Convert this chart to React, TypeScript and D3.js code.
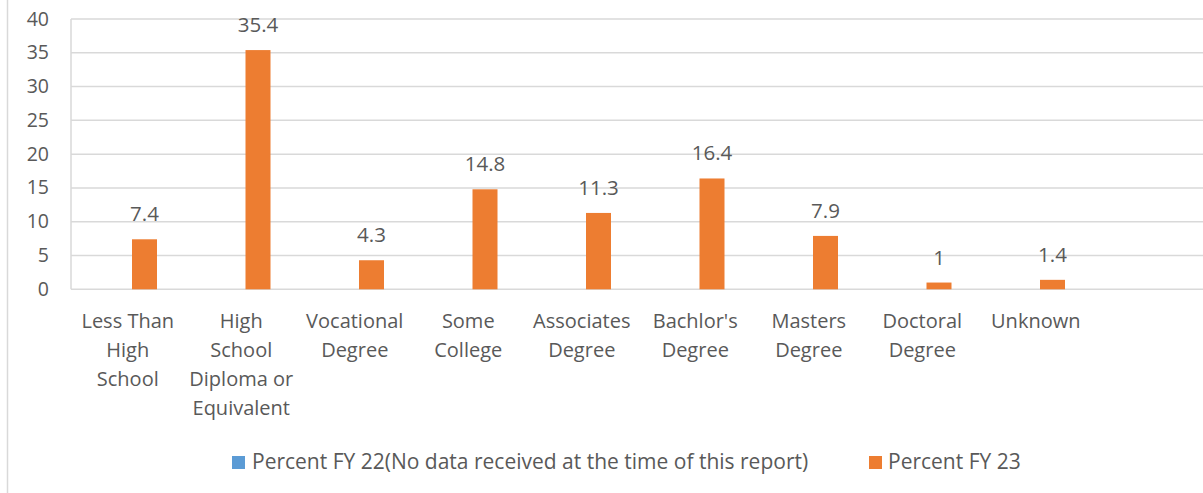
import React from "react";
import * as d3 from "d3";

const categories: string[] = [
  "Less Than High School",
  "High School Diploma or Equivalent",
  "Vocational Degree",
  "Some College",
  "Associates Degree",
  "Bachlor's Degree",
  "Masters Degree",
  "Doctoral Degree",
  "Unknown",
  "",
];
const categoryLines: string[][] = [
  ["Less Than", "High", "School"],
  ["High", "School", "Diploma or", "Equivalent"],
  ["Vocational", "Degree"],
  ["Some", "College"],
  ["Associates", "Degree"],
  ["Bachlor's", "Degree"],
  ["Masters", "Degree"],
  ["Doctoral", "Degree"],
  ["Unknown"],
  [],
];
const seriesNames: string[] = [
  "Percent FY 22(No data received at the time of this report)",
  "Percent FY 23",
];
const fy22: (number | null)[] = [null, null, null, null, null, null, null, null, null, null];
const fy23: (number | null)[] = [7.4, 35.4, 4.3, 14.8, 11.3, 16.4, 7.9, 1, 1.4, null];
const yTicks: number[] = [0, 5, 10, 15, 20, 25, 30, 35, 40];

const COLORS = ["#5B9BD5", "#ED7D31"];
const TEXT = "#595959";
const GRID = "#D9D9D9";
const FONT = "'Open Sans', 'Liberation Sans', sans-serif";

export default function App() {
  const W = 1203;
  const H = 493;
  const left = 71;
  const band = 113.5;
  const x = d3
    .scaleBand<string>()
    .domain(categories.map((c, i) => String(i)))
    .range([left, left + band * categories.length])
    .padding(0);
  const bw = x.bandwidth();
  const xs = d3
    .scaleBand<string>()
    .domain(["0", "1"])
    .range([bw / 2 - 20.75, bw / 2 + 29.25])
    .padding(0);
  const y = d3.scaleLinear().domain([0, 40]).range([289.3, 19]);
  const series = [fy22, fy23];

  return (
    <svg
      width={W}
      height={H}
      style={{ position: "absolute", left: 0, top: 0, background: "#fff" }}
      fontFamily={FONT}
    >
      <rect x={0} y={0} width={W} height={H} fill="#fff" />
      <line x1={7.5} x2={7.5} y1={0} y2={H} stroke={GRID} strokeWidth={1.5} />
      {yTicks.map((t) => (
        <g key={t}>
          <line x1={left} x2={W} y1={y(t)} y2={y(t)} stroke={GRID} strokeWidth={1.5} />
          <text x={49} y={y(t) + 6.5} textAnchor="end" fontSize={19.5} fill={TEXT}>
            {t}
          </text>
        </g>
      ))}
      <line x1={left} x2={left} y1={y(40)} y2={y(0)} stroke={GRID} strokeWidth={1.5} />
      {series.map((s, si) =>
        s.map((v, i) =>
          v == null ? null : (
            <g key={`${si}-${i}`}>
              <rect
                x={(x(String(i)) as number) + (xs(String(si)) as number)}
                y={y(v)}
                width={xs.bandwidth()}
                height={y(0) - y(v)}
                fill={COLORS[si]}
              />
              <text
                x={(x(String(i)) as number) + (xs(String(si)) as number) + xs.bandwidth() / 2}
                y={y(v) - 18}
                textAnchor="middle"
                fontSize={20.5}
                fill={TEXT}
              >
                {v}
              </text>
            </g>
          )
        )
      )}
      {categoryLines.map((lines, i) => (
        <text key={i} textAnchor="middle" fontSize={20} fill={TEXT}>
          {lines.map((l, j) => (
            <tspan key={j} x={(x(String(i)) as number) + bw / 2} y={328.3 + j * 29}>
              {l}
            </tspan>
          ))}
        </text>
      ))}
      {[
        { sx: 232, tx: 252 },
        { sx: 869, tx: 888 },
      ].map((p, i) => (
        <g key={i}>
          <rect x={p.sx} y={456} width={13} height={13} fill={COLORS[i]} />
          <text x={p.tx} y={469} fontSize={21} fill={TEXT}>
            {seriesNames[i]}
          </text>
        </g>
      ))}
    </svg>
  );
}
